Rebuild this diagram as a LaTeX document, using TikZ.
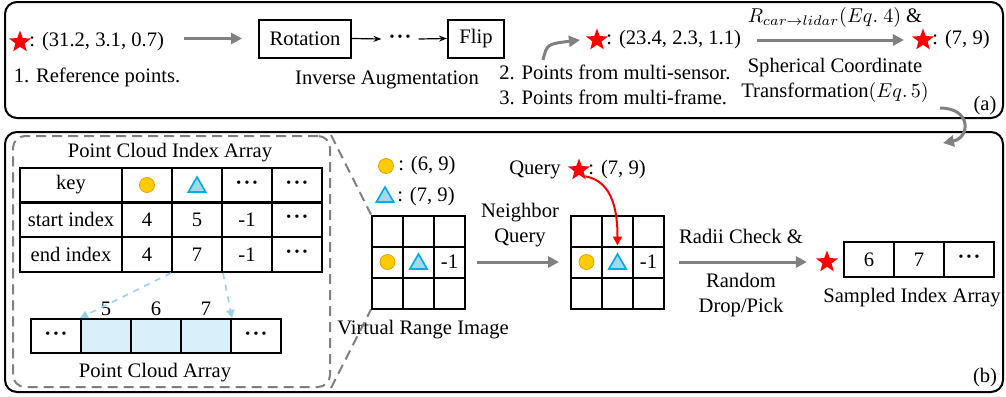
\documentclass[tikz,border=0pt]{standalone}
\usepackage{amsmath}
\usepackage{fontspec}
\setmainfont{Liberation Serif}
\usetikzlibrary{shapes.geometric, positioning, arrows.meta}

\definecolor{arrgray}{RGB}{128,128,128}
\definecolor{dotyellow}{RGB}{255,204,0}
\definecolor{dotorange}{RGB}{235,160,0}
\definecolor{triblue}{RGB}{0,170,230}
\definecolor{trifill}{RGB}{165,215,230}
\definecolor{cellblue}{RGB}{215,240,250}
\definecolor{dashblue}{RGB}{150,210,230}

\newcommand{\bdots}{\textbf{\char"00B7\kern0.6pt\char"00B7\kern0.6pt\char"00B7}}

\tikzset{
  redstar/.style={star, star points=5, star point ratio=2.4, fill=red, inner sep=0pt, minimum size=11.5pt},
  ydot/.style={circle, fill=dotyellow, draw=dotorange, line width=0.4pt, inner sep=0pt, minimum size=7.5pt},
  btri/.style={regular polygon, regular polygon sides=3, fill=trifill, draw=triblue, line width=0.8pt, inner sep=0pt, minimum size=10pt},
  box/.style={draw, line width=1pt, minimum height=19pt, inner sep=2pt},
  cell/.style={draw, line width=1pt, minimum width=25pt, minimum height=17.5pt, inner sep=0pt},
  gcell/.style={draw, line width=1pt, minimum size=15.5pt, inner sep=0pt},
  garrow/.style={draw=arrgray, line width=1.5pt, -{Triangle[length=5.5pt,width=5.5pt]}},
  barrow/.style={line width=0.6pt, -{Stealth[length=4pt]}},
  darrow/.style={draw=dashblue, line width=0.8pt, dashed, -{Triangle[length=4pt,width=4pt]}},
  gdash/.style={draw=arrgray, line width=1pt, dash pattern=on 5pt off 3pt},
  txt/.style={inner sep=1pt}
}

\begin{document}
\begin{tikzpicture}[x=0.5pt, y=-0.5pt, every node/.style={font=\fontsize{10.3}{12.5}\selectfont}]
\useasboundingbox (0,0) rectangle (1006,396);

% frames
\draw[line width=1pt, rounded corners=6pt] (5,2) rectangle (1003,118);
\draw[line width=1pt, rounded corners=6pt] (5,132) rectangle (1003,392);

% (a) inverse augmentation
\node[redstar] (s1) at (20,42) {};
\node[txt, right=0pt of s1] (p1) {: (31.2, 3.1, 0.7)};
\node (ref) at (97,77) {1. Reference points.};
\node[box, minimum width=46pt] (rot) at (305,38.5) {Rotation};
\node (adots) at (400,39) {\bdots};
\node[box, minimum width=28pt] (flip) at (476,38.5) {Flip};
\node (inv) at (387,80) {Inverse Augmentation};
\draw[garrow, shorten <=9pt, shorten >=8pt] (p1.east |- rot.west) -- (rot.west);
\draw[barrow] (rot.east) -- (adots.west);
\draw[barrow] (adots.east) -- (flip.west);

\node[redstar] (s2) at (597,40) {};
\node[txt, right=0pt of s2] (p2) {: (23.4, 2.3, 1.1)};
\node[anchor=west, align=left, inner sep=0pt] (multi) at (499,84.5) {2. Points from multi-sensor.\\3. Points from multi-frame.};
\coordinate (c1) at (543,60);
\draw[garrow] (c1) .. controls (547,44) .. ([xshift=-5pt]s2.west);

\node[redstar] (s3) at (923,40) {};
\node[txt, right=0pt of s3] (p3) {: (7, 9)};
\draw[garrow, shorten <=7pt, shorten >=6pt] (p2.east) -- (s3.west);
\node (rlab) at (835,18) {$R_{car\rightarrow lidar}(Eq.~4)$ \&};
\node[align=center] (sph) at (835,80) {Spherical Coordinate\\Transformation$(Eq.\,5)$};
\node (la) at (985,106) {(a)};
\coordinate (c2) at (940,108);
\coordinate (c3) at (943,143);
\draw[garrow] (c2) .. controls (972,108) and (970,138) .. (c3);

% (b) point cloud index array
\node[gdash, rounded corners=6pt, minimum width=158.5pt, minimum height=125.5pt] (pcbox) at (171.5,261.5) {};
\node (ttl) at (170,153) {Point Cloud Index Array};
\foreach \r/\y in {1/185, 2/219.5, 3/254.5} {
  \node[cell, minimum width=51pt] (t\r0) at (71,\y) {};
  \foreach \c in {1,...,4}
    \node[cell] (t\r\c) at (97+50*\c,\y) {};
}
\node at (t10) {key};
\node[ydot] (k1) at (t11) {};
\node[btri] (k2) at ([yshift=-1pt]t12.center) {};
\node at (t13) {\bdots};
\node at (t14) {\bdots};
\foreach \r/\lab/\u/\v in {2/start index/4/5, 3/end index/4/7} {
  \node at (t\r0) {\lab};
  \node at (t\r1) {\u};
  \node at (t\r2) {\v};
  \node at (t\r3) {-1};
  \node at (t\r4) {\bdots};
}

% point cloud array
\foreach \c/\f in {0/white, 1/cellblue, 2/cellblue, 3/cellblue, 4/white}
  \node[cell, minimum height=17pt, fill=\f] (a\c) at (56+50*\c,336) {};
\node at (a0) {\bdots};
\node at (a4) {\bdots};
\foreach \c/\n in {1/5, 2/6, 3/7}
  \node[above=0pt of a\c, inner sep=1pt] {\n};
\node (pca) at (155,373) {Point Cloud Array};
\draw[darrow] (t32.south west) -- (a1.north west);
\draw[darrow] (t32.south east) -- (a3.north east);

% virtual range image
\node[ydot] (l1) at (386,166) {};
\node[txt, right=1pt of l1] {: (6, 9)};
\node[btri] (l2) at (385,197) {};
\node[txt, right=1pt of l2.center, xshift=4pt] {: (7, 9)};
\foreach \g/\x in {1/372, 2/571}
  \foreach \r in {1,2,3}
    \foreach \c in {1,2,3}
      \node[gcell] (g\g\r\c) at (\x-15.5+31*\c,200+31*\r) {};
\foreach \g in {1,2} {
  \node[ydot] at (g\g21) {};
  \node[btri] at ([yshift=-1pt]g\g22.center) {};
  \node at (g\g23) {-1};
}
\node (vri) at (423,330) {Virtual Range Image};
\draw[gdash] (pcbox.north east) -- (g111.north west);
\draw[gdash] (pcbox.south east) -- (g131.south west);

\draw[garrow, shorten <=5.5pt, shorten >=5.5pt] (g123.east) -- (g221.west);
\node[align=center] (nq) at (520,225) {Neighbor\\Query};

% query
\node (q) at (535,170) {Query};
\node[redstar] (qs) at (579,170) {};
\node[txt, right=0pt of qs] {: (7, 9)};
\draw[red, line width=1pt, -{Triangle[length=4.5pt,width=4.5pt]}] (qs.south east) to[out=-10, in=90] (g222.north);

% sampling
\node[redstar] (s4) at (827,262) {};
\draw[garrow, shorten <=7pt, shorten >=6.5pt] (g223.east) -- (s4.west);
\node (rc) at (741,236) {Radii Check \&};
\node[align=center] (rd) at (741,295) {Random\\Drop/Pick};
\foreach \c/\n in {1/6, 2/7, 3/\bdots}
  \node[cell] (o\c) at (819+50*\c,259.5) {\n};
\node (sia) at (912,298) {Sampled Index Array};
\node (lb) at (985,378) {(b)};
\end{tikzpicture}
\end{document}
